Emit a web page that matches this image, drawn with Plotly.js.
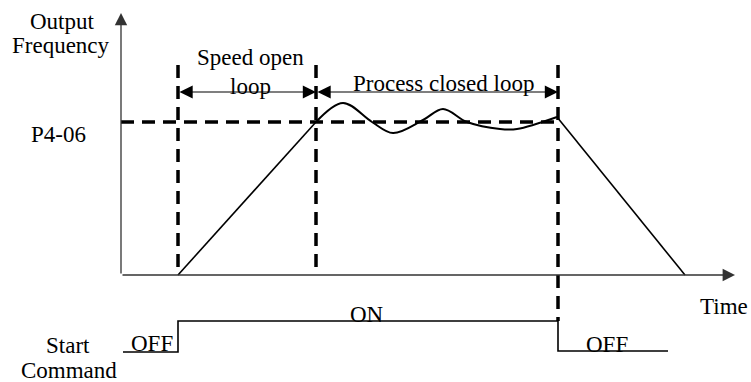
<!DOCTYPE html>
<html>
<head>
<meta charset="utf-8">
<script src="https://cdn.plot.ly/plotly-3.0.1.min.js"></script>
<style>
  html, body { margin: 0; padding: 0; background: #fff; }
  #plot { width: 751px; height: 382px; }
</style>
</head>
<body>
<div id="plot"></div>
<script>
// Schematic values (time / frequency units, origin at the axes corner)
const tStart = 57;     // run command given
const tLoop = 195;     // frequency reaches P4-06, closed loop begins
const tStop = 437;     // run command removed
const tEnd = 564;      // decel finished
const fSet = 153;      // P4-06 level
const tMax = 614;      // end of time axis
const fMax = 262;      // top of frequency axis

// accel ramp
const rampX = [tStart, tLoop];
const rampY = [0, fSet];

// closed-loop wobble around P4-06
const waveX = [195, 222, 251, 272, 302, 322, 346, 379, 396, 436];
const waveY = [153, 172, 153, 142, 155, 166, 153, 146, 146, 158];

// decel ramp
const decelX = [436, tEnd];
const decelY = [158, 0];

// start command level
const cmdX = [2, tStart, tStart, tStop, tStop, 547];
const cmdY = [-77, -77, -46, -46, -76, -76];

// dashed markers
const markTimes = [tStart, tLoop, tStop];
const markTop = [210, 210, 210];
const markBottom = [0, 5, -46];
const spanY = 183;

const FONT = "Liberation Serif, Times New Roman, serif";
const dash = "13px,8px";

const traces = [];

function line(x, y, opts) {
  traces.push(Object.assign({
    x: x, y: y, type: "scatter", mode: "lines",
    hoverinfo: "skip",
  }, opts));
}

// dashed guide lines
line([0, tStop], [fSet, fSet], { line: { color: "black", width: 3.5, dash: dash } });
markTimes.forEach((t, i) => {
  line([t, t], [markTop[i], markBottom[i]], { line: { color: "black", width: 3.5, dash: dash } });
});

// frequency curve
line(rampX, rampY, { line: { color: "black", width: 1.6 } });
line(waveX, waveY, { line: { color: "black", width: 2, shape: "spline", smoothing: 1 } });
line(decelX, decelY, { line: { color: "black", width: 1.6 } });

// command signal
line(cmdX, cmdY, { line: { color: "black", width: 1.6 } });

function arrow(x0, y0, x1, y1, w, size, both) {
  return {
    x: x1, y: y1, ax: x0, ay: y0,
    xref: "x", yref: "y", axref: "x", ayref: "y",
    text: "", showarrow: true,
    arrowhead: 2, arrowsize: size, arrowwidth: w,
    arrowcolor: both ? "black" : "#333",
    arrowside: both ? "end+start" : "end",
  };
}

function label(text, x, y) {
  return {
    x: x, y: y, xref: "x", yref: "y", text: text, showarrow: false,
    xanchor: "center", yanchor: "middle",
    font: { family: FONT, size: 23, color: "black" },
  };
}

const annotations = [
  // axes
  arrow(0, 0, tMax, 0, 1.3, 1.9, false),
  arrow(0, 0, 0, fMax, 1.3, 1.9, false),
  // spans
  arrow(tStart, spanY, tLoop, spanY, 1.1, 2.4, true),
  arrow(tLoop, spanY, tStop, spanY, 1.1, 2.4, true),
  // texts
  label("Output", -59, 254),
  label("Frequency", -60, 230),
  label("P4-06", -63, 141),
  label("Speed open", 129, 218),
  label("loop", 129, 189),
  label("Process closed loop", 322, 192),
  label("Time", 603, -31),
  label("ON", 246, -39),
  label("OFF", 31, -68),
  label("OFF", 486, -69),
  label("Start", -53, -70),
  label("Command", -52, -95),
];

const layout = {
  width: 751,
  height: 382,
  margin: { l: 0, r: 0, t: 0, b: 0 },
  showlegend: false,
  xaxis: { range: [-121, 630], visible: false, fixedrange: true },
  yaxis: { range: [-107, 275], visible: false, fixedrange: true },
  annotations: annotations,
  plot_bgcolor: "#ffffff",
  paper_bgcolor: "#ffffff",
};

Plotly.newPlot("plot", traces, layout, { displayModeBar: false, staticPlot: true });
</script>
</body>
</html>
